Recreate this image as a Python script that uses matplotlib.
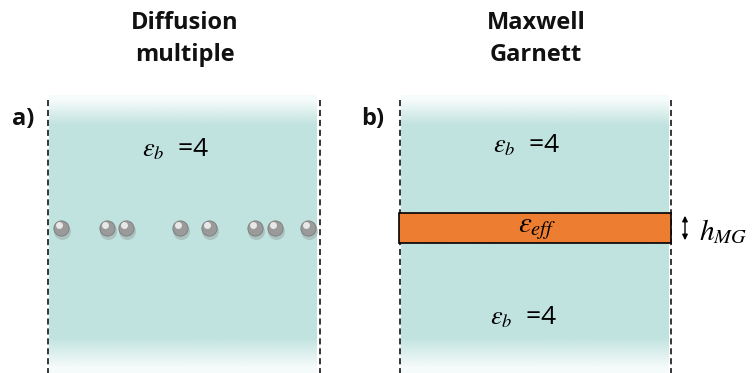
import numpy as np
import matplotlib.pyplot as plt
from matplotlib.patches import Rectangle

# panel contents
titles = ["Diffusion\nmultiple", "Maxwell\nGarnett"]
title_x = [185, 536]
panel_labels = ["a)", "b)"]
label_x = [23, 373]
slab_left = [49, 401]
slab_right = [317, 669]
dash_x = [(48, 320), (400, 671)]
sphere_x = [61, 107, 126, 180, 209, 255, 275, 308]
eps_text = r"$\varepsilon_b$  =4"
eps_eff = r"$\varepsilon_{eff}$"
h_label = r"$h_{MG}$"

teal = np.array([192, 227, 223]) / 255
orange = "#ed7d31"

plt.rcParams["mathtext.fontset"] = "stix"
fig = plt.figure(figsize=(7.53, 3.73), dpi=100)
ax = fig.add_axes([0, 0, 1, 1])
ax.set_xlim(0, 753)
ax.set_ylim(373, 0)
ax.axis("off")

# fading teal slabs
top, bottom = 95, 373
ny = 200
yy = np.linspace(0, 1, ny)
ypix = top + yy * (bottom - top)
alpha = np.ones(ny)
alpha = np.minimum(alpha, np.clip((ypix - top) / 30, 0.15, 1))
alpha = np.minimum(alpha, np.clip((bottom - ypix) / 35, 0.15, 1))
img = np.zeros((ny, 1, 4))
img[:, 0, :3] = teal
img[:, 0, 3] = alpha
for i in range(2):
    ax.imshow(img, extent=(slab_left[i], slab_right[i], bottom, top),
              aspect="auto", interpolation="bilinear", zorder=1)
    for xd in dash_x[i]:
        ax.plot([xd, xd], [100, 373], color="black", lw=1.1, ls=(0, (4, 2.5)), zorder=3)
    ax.text(title_x[i], 39, titles[i], ha="center", va="center", fontsize=17,
            fontweight="bold", family="Open Sans", linespacing=1.45, color="#111111")
    ax.text(label_x[i], 119, panel_labels[i], ha="center", va="center", fontsize=17,
            fontweight="bold", family="Open Sans", color="#111111")

# spheres
for xs in sphere_x:
    ax.scatter(xs + 1, 231, s=150, color="#888888", alpha=0.35, zorder=4, lw=0)
    ax.scatter(xs, 228, s=120, color="#9a9a9a", edgecolor="#7a7a7a", lw=0.6, zorder=5)
    ax.scatter(xs - 1.5, 225, s=25, color="#e8e8e8", lw=0, zorder=6)

for tx, ty in [(176, 150), (527, 146), (524, 318)]:
    ax.text(tx, ty, eps_text, ha="center", va="center", fontsize=19,
            family="Open Sans", zorder=6)

# effective medium layer
ax.add_patch(Rectangle((399, 213), 272, 30, facecolor=orange, edgecolor="black", lw=1.2, zorder=5))
ax.text(537, 228, eps_eff, ha="center", va="center", fontsize=21, zorder=6)

ax.annotate("", xy=(685, 213), xytext=(685, 243),
            arrowprops=dict(arrowstyle="<|-|>", color="black", lw=1, mutation_scale=8))
ax.text(699, 232, h_label, ha="left", va="center", fontsize=21)

fig.savefig("out.png", dpi=100)
